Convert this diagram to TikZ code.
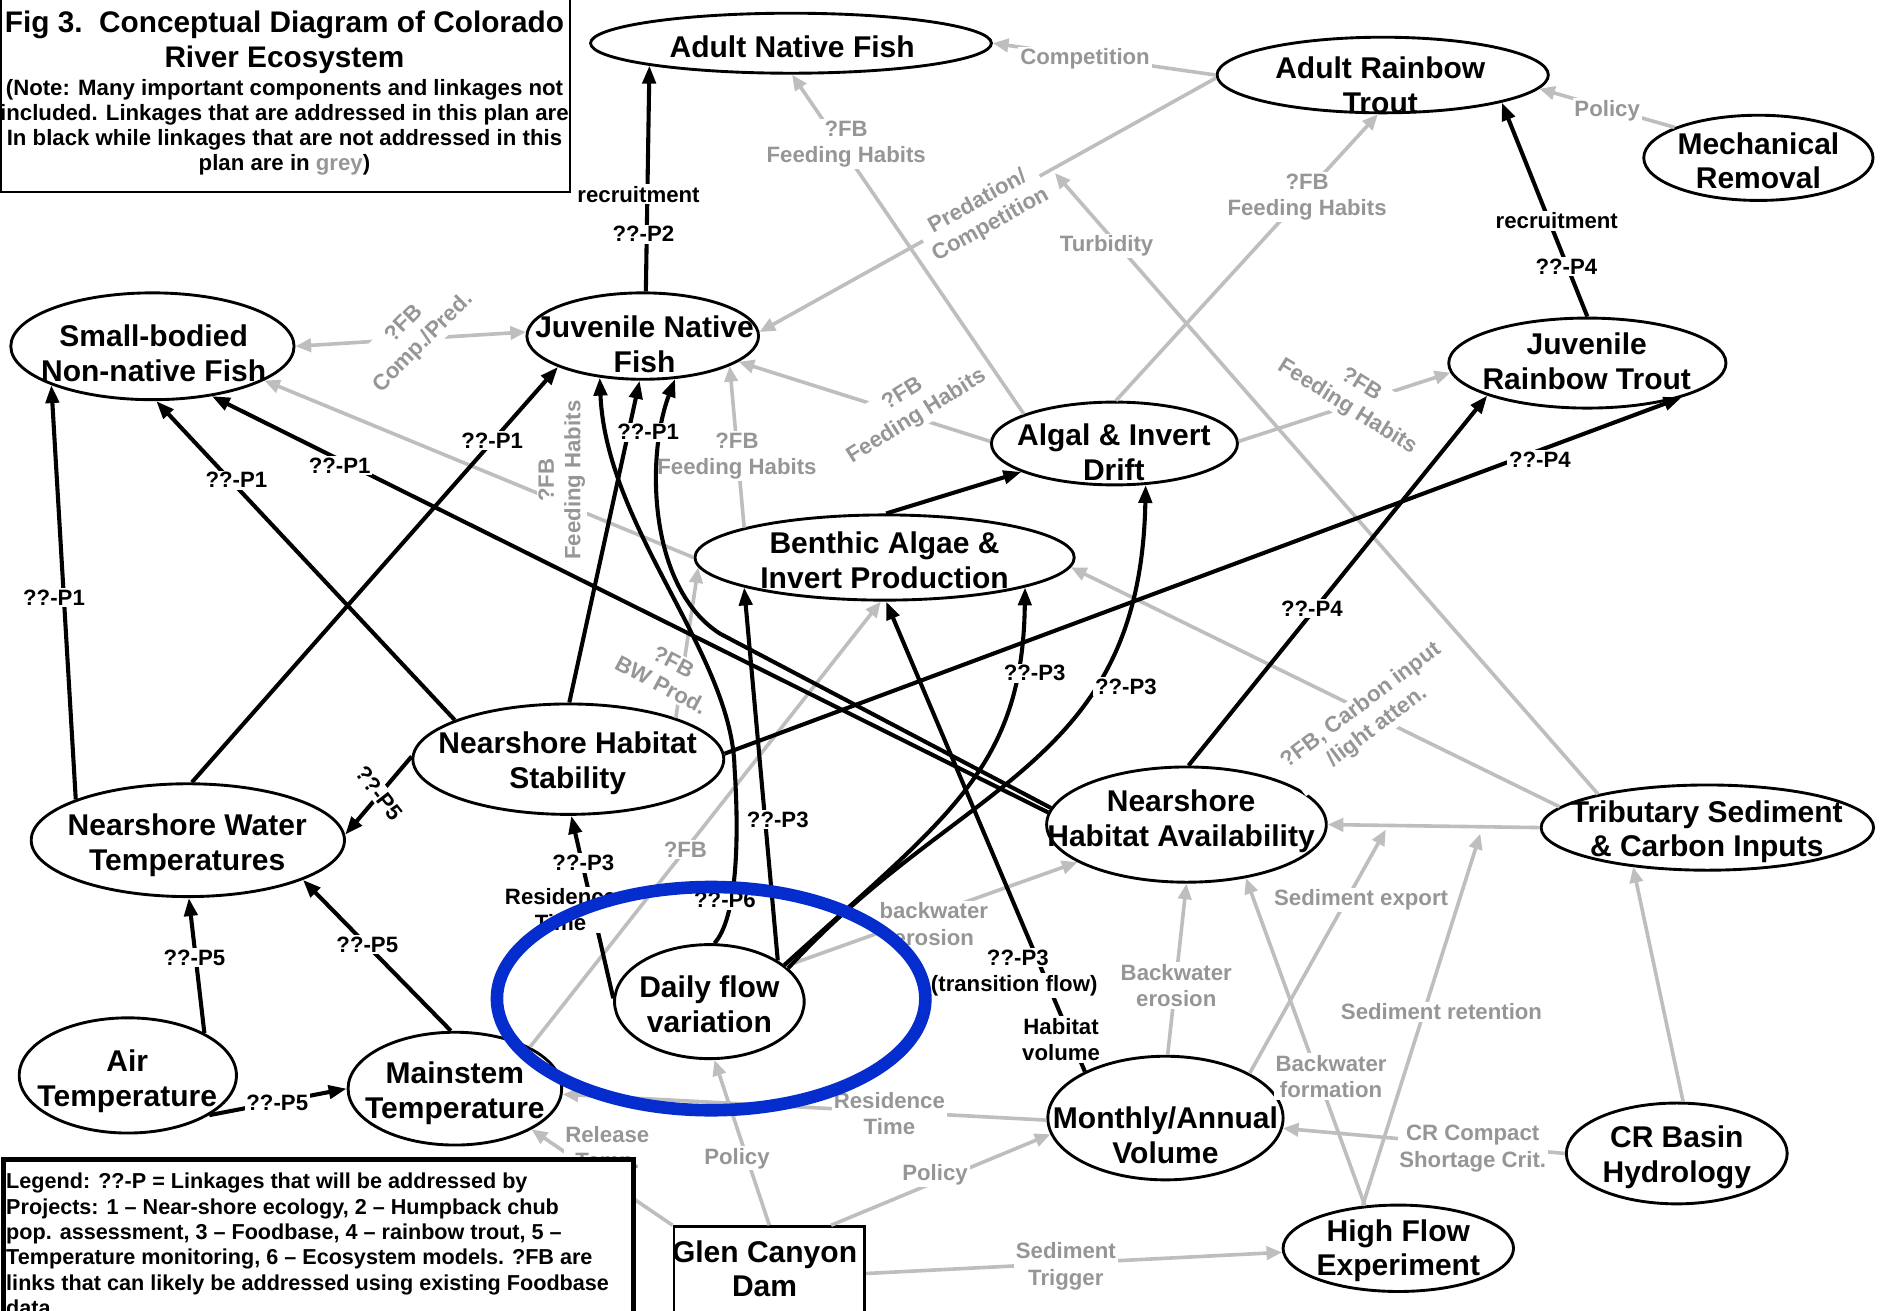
\documentclass[tikz,border=0pt]{standalone}
\usepackage{fontspec}
\setmainfont{Liberation Sans}
\usetikzlibrary{shapes.geometric,arrows.meta,calc}
\definecolor{lgray}{RGB}{190,190,190}
\definecolor{tgray}{RGB}{150,150,150}
\definecolor{myblue}{RGB}{5,45,205}
\newcommand{\nodefont}{\bfseries\fontsize{25}{29}\selectfont}
\newcommand{\labfont}{\bfseries\fontsize{18.5}{22}\selectfont}
\begin{document}
\begin{tikzpicture}[x=1pt,y=-1pt,
  ell/.style n args={2}{draw, ellipse, fill=white, line width=2.4pt, inner sep=0pt, minimum width=#1pt, minimum height=#2pt},
  ntext/.style={font=\nodefont, align=center, inner sep=0pt},
  blk/.style={line width=3.4pt, -{Triangle[length=15pt,width=11pt]}},
  gry/.style={draw=lgray, line width=3pt, -{Triangle[length=13pt,width=11pt]}},
  blab/.style={font=\labfont, fill=white, inner sep=1.5pt, align=center},
  glab/.style={font=\labfont, text=tgray, fill=white, inner sep=1.5pt, align=center},
]
\useasboundingbox (0,0) rectangle (1568,1092);
\fill[white] (0,0) rectangle (1568,1092);

% ---------- component nodes ----------
\node[ell={334}{50}] (anf) at (659,36) {};
\node[ell={276}{63}] (art) at (1152,62.5) {};
\node[ell={191}{71}] (mr) at (1465,131.5) {};
\node[ell={236}{89}] (sbf) at (127,288.5) {};
\node[ell={193}{72}] (jnf) at (535.5,280) {};
\node[ell={231}{75}] (jrt) at (1322.5,302.5) {};
\node[ell={205}{69}] (alg) at (928.5,369.5) {};
\node[ell={316}{71}] (baip) at (737,464.5) {};
\node[ell={259}{92}] (nhs) at (473.5,632.5) {};
\node[ell={261}{94}] (nwt) at (156.5,700) {};
\node[ell={233}{96}] (nha) at (988.5,687) {};
\node[ell={277}{71}] (trib) at (1422.5,689.5) {};
\node[ell={181}{96}] (air) at (106.5,896) {};
\node[ell={178}{94}] (mst) at (379,907) {};
\node[ell={158}{95}] (dfv) at (591,834.5) {};
\node[ell={196}{103}] (mav) at (971,931.5) {};
\node[ell={184}{84}] (crb) at (1397,961) {};
\node[ell={192}{72}] (hfe) at (1165,1040) {};
\node[draw, line width=2.4pt, fill=white, minimum width=159pt, minimum height=78pt, inner sep=0pt] (gcd) at (641,1061) {};

\node[ntext] (anfT) at (660,39) {Adult Native Fish};
\node[ntext] (artT) at (1150,71) {Adult Rainbow\\Trout};
\node[ntext] (mrT) at (1465,134) {Mechanical\\Removal};
\node[ntext] (sbfT) at (128,294) {Small-bodied\\Non-native Fish};
\node[ntext] (jnfT) at (537,287) {Juvenile Native\\Fish};
\node[ntext] (jrtT) at (1322,301) {Juvenile\\Rainbow Trout};
\node[ntext] (algT) at (928,377) {Algal \& Invert\\Drift};
\node[ntext] (baipT) at (737,467) {Benthic Algae \&\\Invert Production};
\node[ntext] (nhsT) at (473,636) {Nearshore Habitat\\Stability};
\node[ntext] (nwtT) at (156,704) {Nearshore Water\\Temperatures};
\node[ntext] (nhaT) at (984,684) {Nearshore\\Habitat Availability};
\node[ntext] (tribT) at (1422,693) {Tributary Sediment\\\& Carbon Inputs};
\node[ntext] (airT) at (106,901) {Air\\Temperature};
\node[ntext] (mstT) at (379,911) {Mainstem\\Temperature};
\node[ntext] (dfvT) at (591,837) {Daily flow\\variation};
\node[ntext] (mavT) at (971,946) {Monthly/Annual\\Volume};
\node[ntext] (crbT) at (1397,964) {CR Basin\\Hydrology};
\node[ntext] (hfeT) at (1165,1042) {High Flow\\Experiment};
\node[ntext] (gcdT) at (637,1057) {Glen Canyon\\Dam};

% helper coordinates on grey links
\coordinate (turbP) at ($(art.181)!0.36!(jnf.2)$);
\coordinate (sretP) at ($(trib.180)!0.27!(nha.0)$);
\coordinate (sexpP) at ($(trib.180)!0.715!(nha.0)$);

% ---------- grey links ----------
\draw[gry] (art.180) -- (anf.0);
\draw[gry] (art.181) -- (jnf.2);
\draw[gry] (alg.162) -- (anf.272);
\draw[gry] (alg.88) -- (art.263);
\draw[gry, shorten >=4pt] (trib.163) -- (turbP);
\draw[gry] (mr.160) -- (art.355);
\draw[gry] (alg.179) -- (jnf.345);
\draw[gry] (baip.168) -- (jnf.341);
\draw[gry] (alg.1) -- (jrt.184);
\draw[gry, {Triangle[length=13pt,width=11pt]}-{Triangle[length=13pt,width=11pt]}] (sbf.0) -- (jnf.178);
\draw[gry] (baip.180) -- (sbf.343);
\draw[gry] (nhs.21) -- (baip.183);
\draw[gry] (trib.172) -- (baip.357);
\draw[gry] (trib.180) -- (nha.0);
\draw[gry] (hfe.128) -- (nha.318);
\draw[gry, shorten >=6pt] (hfe.130) -- (sretP);
\draw[gry, shorten >=4pt] (mav.28) -- (sexpP);
\draw[gry] (mav.88) -- (nha.270);
\draw[gry] (crb.180) -- (mav.355);
\draw[gry] (crb.83) -- (trib.208);
\draw[gry] (gcd.east) -- (hfe.182);
\draw[gry] (gcd.38) -- (mav.188);
\draw[gry] (gcd.north) -- (dfv.275);
\draw[gry] (gcd.north west) -- (mst.332);
\draw[gry] (mav.181) -- (mst.357);
\draw[gry] (mst.29) -- (baip.265);
\draw[gry] (dfv.25) -- (nha.199);

% ---------- grey labels ----------
\node[glab] (gl1) at (904,49) {Competition};
\node[glab, rotate=29] (gl2) at (820,178) {Predation/\\Competition};
\node[glab] (gl3) at (705,120) {?FB\\Feeding Habits};
\node[glab] (gl4) at (1089,164) {?FB\\Feeding Habits};
\node[glab] (gl5) at (922,205) {Turbidity};
\node[glab] (gl6) at (1339,92) {Policy};
\node[glab, rotate=32] (gl7) at (758,338) {?FB\\Feeding Habits};
\node[glab] (gl8) at (614,380) {?FB\\Feeding Habits};
\node[glab, rotate=-32] (gl9) at (1128,330) {?FB\\Feeding Habits};
\node[glab, rotate=45] (gl10) at (345,278) {?FB\\Comp./Pred.};
\node[glab, rotate=90] (gl11) at (468,400) {?FB\\Feeding Habits};
\node[glab, rotate=-28] (gl12) at (556,561) {?FB\\BW Prod.};
\node[glab, rotate=37] (gl13) at (1141,597) {?FB, Carbon input\\/light atten.};
\node[glab] (gl14) at (1134,750) {Sediment export};
\node[glab] (gl15) at (1201,843) {Sediment retention};
\node[glab] (gl16) at (1109,897) {Backwater\\formation};
\node[glab] (gl17) at (980,821) {Backwater\\erosion};
\node[glab] (gl18) at (1227,957) {CR Compact\\Shortage Crit.};
\node[glab] (gl19) at (888,1055) {Sediment\\Trigger};
\node[glab] (gl20) at (779,979) {Policy};
\node[glab] (gl21) at (614,965) {Policy};
\node[glab] (gl22) at (506,958) {Release\\Temp.};
\node[glab] (gl23) at (741,928) {Residence\\Time};
\node[glab] (gl24) at (571,708) {?FB};
\node[glab] (gl25) at (778,770) {backwater\\erosion};

% ---------- black links ----------
\draw[blk] (jnf.86) -- (anf.189);
\draw[blk] (jrt.90) -- (art.347);
\draw[blk] (nwt.160) -- (sbf.201);
\draw[blk] (nhs.161) -- (sbf.274);
\draw[blk] (nha.175) -- (sbf.320);
\draw[blk] (nwt.86) -- (jnf.200);
\draw[blk] (nhs.89) -- (jnf.266);
\draw[blk] (nha.173) -- (600,528) .. controls (540,490) and (538,380) .. (jnf.307);
\draw[blk] (dfv.85) .. controls (614,765) and (616,700) .. (612,640) .. controls (610,545) and (505,440) .. (jnf.224);
\draw[blk] (dfv.31) -- (baip.192);
\draw[blk] (dfv.26) .. controls (790,680) and (852,640) .. (baip.348);
\draw[blk] (dfv.23) .. controls (800,650) and (950,640) .. (alg.307);
\draw[blk] (mav.150) -- (baip.272);
\draw[blk] (nhs.2) -- (jrt.340);
\draw[blk] (nha.88) -- (jrt.198);
\draw[blk] (nhs.179) -- (nwt.2);
\draw[blk] (air.29) -- (nwt.271);
\draw[blk] (mst.94) -- (nwt.341);
\draw[blk] (air.334) -- (mst.180);
\draw[blk] (dfv.178) -- (nhs.273);
\draw[blk] (baip.88) -- (alg.197);

% ---------- black labels ----------
\node[blab] (l1) at (532,162) {recruitment};
\node[blab] (l2) at (536,195) {??-P2};
\node[blab] (l3) at (1297,184) {recruitment};
\node[blab] (l4) at (1305,222) {??-P4};
\node[blab] (l5) at (45,498) {??-P1};
\node[blab] (l6) at (197,400) {??-P1};
\node[blab] (l7) at (283,388) {??-P1};
\node[blab] (l8) at (410,367) {??-P1};
\node[blab] (l9) at (540,360) {??-P1};
\node[blab] (l10) at (1283,383) {??-P4};
\node[blab] (l11) at (1093,507) {??-P4};
\node[blab] (l12) at (648,683) {??-P3};
\node[blab] (l13) at (862,561) {??-P3};
\node[blab] (l14) at (938,572) {??-P3};
\node[blab] (l15) at (486,719) {??-P3};
\node[blab] (l16) at (848,798) {??-P3};
\node[blab] (l17) at (845,821) {(transition flow)};
\node[blab] (l18) at (884,866) {Habitat\\volume};
\node[blab] (l19) at (604,750) {??-P6};
\node[blab, rotate=-52] (l20) at (316,661) {??-P5};
\node[blab] (l21) at (162,798) {??-P5};
\node[blab] (l22) at (306,787) {??-P5};
\node[blab] (l23) at (231,919) {??-P5};
\node[blab] (l24) at (467,758) {Residence\\Time};

% ---------- highlight ----------
\node[draw=myblue, line width=10.5pt, ellipse, minimum width=357pt, minimum height=186pt, inner sep=0pt] (blue) at (592.5,832) {};

% ---------- title box ----------
\node[draw, line width=2pt, fill=white, minimum width=474pt, minimum height=166pt, inner sep=0pt] (tbox) at (238,77) {};
\node[font=\bfseries\fontsize{24.8}{29}\selectfont, align=center, inner sep=0pt] (title) at (237,35) {Fig 3.\ \ Conceptual Diagram of Colorado\\River Ecosystem};
\node[font=\bfseries\fontsize{18.5}{20.7}\selectfont, align=center, inner sep=0pt] (note) at (237,106) {(Note: Many important components and linkages not\\included. Linkages that are addressed in this plan are\\In black while linkages that are not addressed in this\\plan are in \textcolor{tgray}{grey})};

% ---------- legend box ----------
\node[draw, line width=4pt, fill=white, minimum width=525pt, minimum height=140pt, inner sep=0pt, anchor=north west] (lbox) at (1,964) {};
\node[font=\bfseries\fontsize{18}{21.2}\selectfont, align=left, inner sep=0pt, anchor=north west] (legend) at (5,977) {Legend: ??-P = Linkages that will be addressed by\\Projects: 1 – Near-shore ecology, 2 – Humpback chub\\pop. assessment, 3 – Foodbase, 4 – rainbow trout, 5 –\\Temperature monitoring, 6 – Ecosystem models. ?FB are\\links that can likely be addressed using existing Foodbase\\data.};
\end{tikzpicture}
\end{document}
